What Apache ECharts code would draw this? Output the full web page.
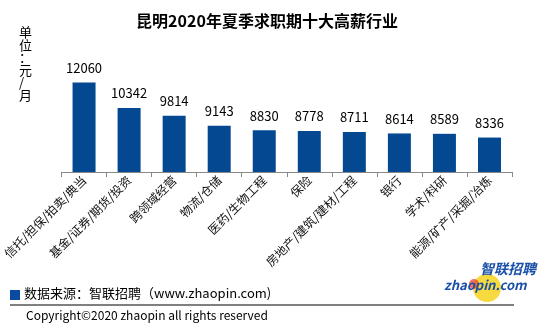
<!DOCTYPE html>
<html><head><meta charset="utf-8">
<script src="https://cdn.jsdelivr.net/npm/echarts@6/dist/echarts.min.js"></script>
<style>html,body{margin:0;padding:0;background:#fff}#c{width:554px;height:330px}</style>
</head><body><div id="c"></div>
<script>
const categories = ['信托/担保/拍卖/典当','基金/证券/期货/投资','跨领域经营','物流/仓储','医药/生物工程','保险','房地产/建筑/建材/工程','银行','学术/科研','能源/矿产/采掘/冶炼'];
const salaries = [12060,10342,9814,9143,8830,8778,8711,8614,8589,8336];
const titleText = '昆明2020年夏季求职期十大高薪行业';
const unitText = '单\n位\n：\n元\n/\n月';
const sourceText = '数据来源：智联招聘（www.zhaopin.com)';
const copyrightText = 'Copyright©2020 zhaopin all rights reserved';
const FONT = '"Microsoft YaHei","Noto Sans CJK SC",sans-serif';
const chart = echarts.init(document.getElementById('c'));
chart.setOption({
  animation:false,
  title:{text:titleText,left:262,top:8,textAlign:'center',textStyle:{fontFamily:FONT,fontSize:16,fontWeight:'bold',color:'#000'}},
  grid:{left:58,right:42,top:54,bottom:158},
  xAxis:{type:'category',data:categories,
    axisLine:{lineStyle:{color:'#888',width:1}},
    axisTick:{show:true,length:5,lineStyle:{color:'#888'}},
    axisLabel:{rotate:45,interval:0,margin:6,fontFamily:FONT,fontSize:12,color:'#111',padding:[0,0,0,0]}},
  yAxis:{type:'value',min:6000,max:14000,show:false,splitLine:{show:false}},
  series:[{type:'bar',data:salaries,barWidth:23,itemStyle:{color:'#044892'},
    label:{show:true,position:'top',distance:8,fontFamily:FONT,fontSize:13,color:'#000'}}],
  graphic:[
    {type:'text',left:19,top:26,style:{text:unitText,fontFamily:FONT,fontSize:13,lineHeight:12.5,fill:'#000',align:'center'}},
    {type:'rect',shape:{x:10,y:290,width:10,height:10},style:{fill:'#0a4aa0'}},
    {type:'text',left:24,top:287,style:{text:sourceText,fontFamily:FONT,fontSize:13,fill:'#000'}},
    {type:'line',shape:{x1:10,y1:305,x2:514,y2:305},style:{stroke:'#000',lineWidth:1}},
    {type:'text',left:26,top:309,style:{text:copyrightText,fontFamily:FONT,fontSize:12,fill:'#000'}},
    {type:'circle',shape:{cx:487,cy:288,r:14},style:{fill:'#f6d21e',opacity:0.85}},
    {type:'circle',shape:{cx:474,cy:284,r:5},style:{fill:'#e8372a',opacity:0.7}},
    {type:'text',left:480,top:262,style:{text:'智联招聘',fontFamily:FONT,fontSize:14,fontWeight:'bold',fontStyle:'italic',fill:'#1a4fa8'}},
    {type:'text',left:444,top:279,style:{text:'zhaopin.com',fontFamily:FONT,fontSize:13,fontWeight:'bold',fontStyle:'italic',fill:'#1a4fa8'}}
  ]
});
</script></body></html>
